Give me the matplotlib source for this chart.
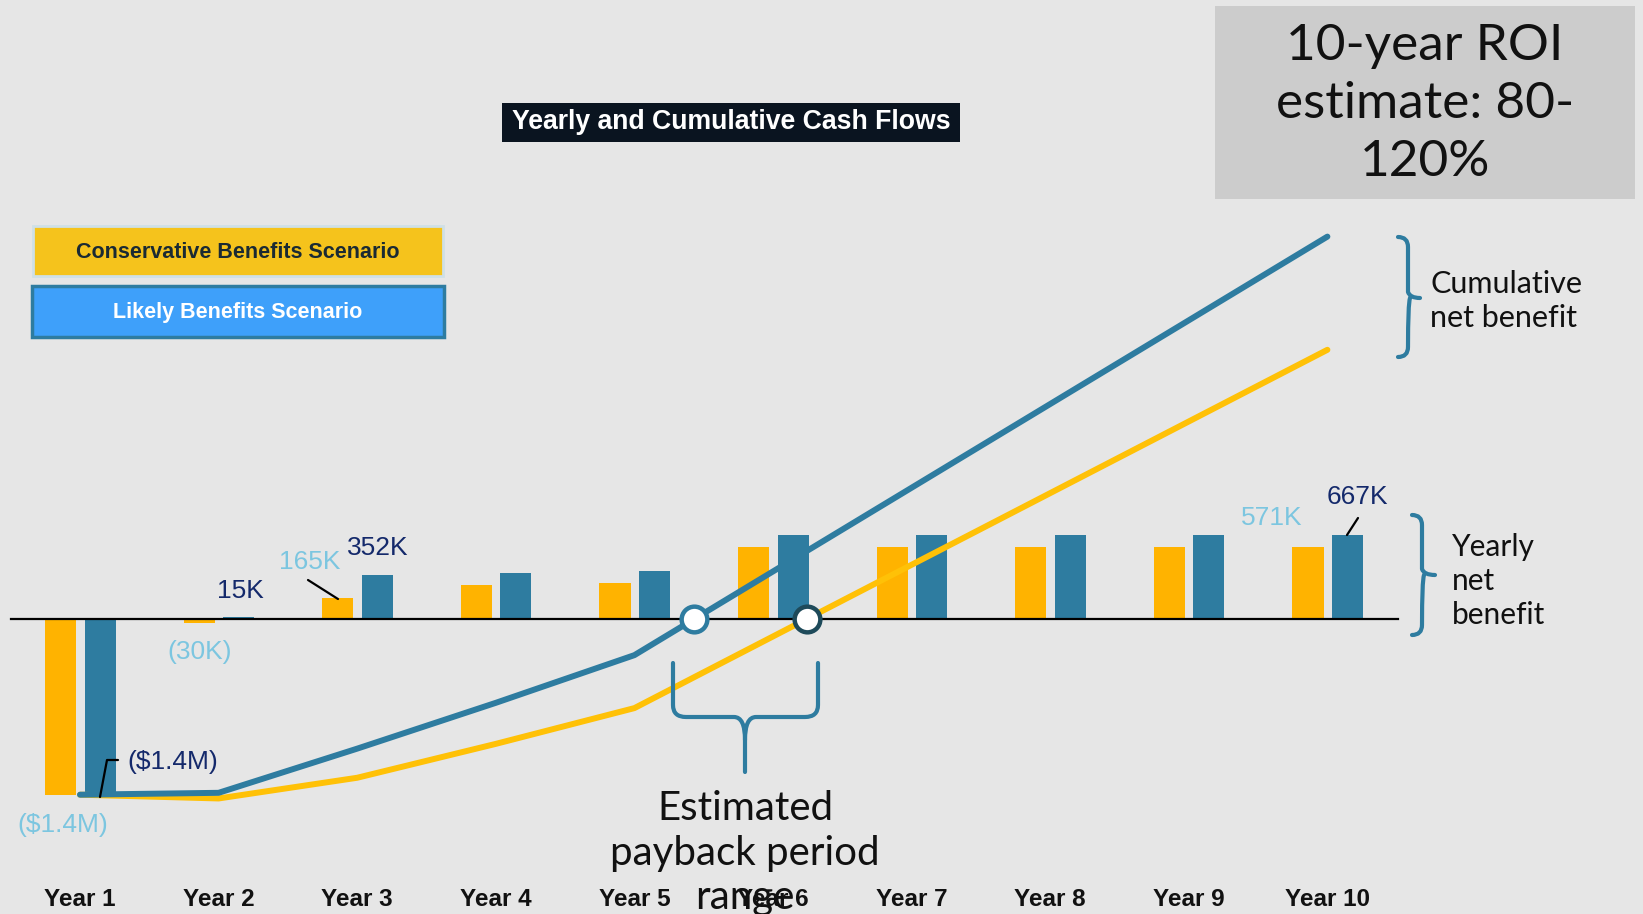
import numpy as np
import matplotlib.pyplot as plt
import matplotlib.transforms as mtransforms
from matplotlib.patches import Rectangle, PathPatch
from matplotlib.path import Path

# ── Data ($K) ─────────────────────────────────────────────────────────────────
years = ["Year 1", "Year 2", "Year 3", "Year 4", "Year 5",
         "Year 6", "Year 7", "Year 8", "Year 9", "Year 10"]
conservative = [-1400, -30, 165, 270, 285, 571, 571, 571, 571, 571]
likely       = [-1400, 15, 352, 365, 380, 667, 667, 667, 667, 667]

cum_cons = np.cumsum(conservative)
cum_like = np.cumsum(likely)

# ── Colours ───────────────────────────────────────────────────────────────────
BG       = "#E6E6E6"
C_YEL    = "#FFB300"
C_YLINE  = "#FFC107"
C_BLUE   = "#2E7CA0"
C_LIGHT  = "#7CC6E0"
C_NAVY   = "#14296B"
C_DARK   = "#1E4A5A"

W, H = 1643, 914
fig = plt.figure(figsize=(W / 100, H / 100), dpi=100, facecolor=BG)
ax = fig.add_axes([0, 0, 1, 1])
ax.set_facecolor(BG)
ax.axis("off")

# pixel layout: year 1 at x=80px, 138.6px per year; zero at y=619px, 0.1255 px per $K
X0, DX = 80, 138.6
Y0, SY = 619, 0.1255
ax.set_xlim(1 - X0 / DX, 1 + (W - X0) / DX)
ax.set_ylim(-(H - Y0) / SY, Y0 / SY)


def fx(px):
    return px / W


def fy(py):
    return 1 - py / H


def fpath(points, codes=None, **kw):
    verts = [(fx(x), fy(y)) for x, y in points]
    p = Path(verts, codes)
    fig.add_artist(PathPatch(p, transform=fig.transFigure, fill=False,
                             capstyle="round", joinstyle="round", **kw))


xpos = np.arange(1, len(years) + 1)
bw = 0.225
ax.bar(xpos - 0.14, conservative, width=bw, color=C_YEL, zorder=2)
ax.bar(xpos + 0.145, likely, width=bw, color=C_BLUE, zorder=2)

ax.plot([0.5, 10.51], [0, 0], color="black", lw=1.6, zorder=3)

ax.plot(xpos, cum_cons, color=C_YLINE, lw=4.3, zorder=4, solid_capstyle="round")
ax.plot(xpos, cum_like, color=C_BLUE, lw=4.3, zorder=4, solid_capstyle="round")


def zero_cross(c):
    for i in range(len(c) - 1):
        if c[i] < 0 <= c[i + 1]:
            return xpos[i] + (-c[i]) / (c[i + 1] - c[i])


ax.plot(zero_cross(cum_like), 0, "o", ms=18.5, mfc="white", mec=C_BLUE, mew=3.2, zorder=5)
ax.plot(zero_cross(cum_cons), 0, "o", ms=18.5, mfc="white", mec=C_DARK, mew=3.2, zorder=5)

# ── Year labels ───────────────────────────────────────────────────────────────
blend = mtransforms.blended_transform_factory(ax.transData, fig.transFigure)
for x, lab in zip(xpos, years):
    ax.text(x, fy(899), lab, transform=blend, ha="center", va="center",
            fontsize=17.5, fontweight="bold", family="Liberation Sans", color="#111111")

# ── Value labels ──────────────────────────────────────────────────────────────
num = dict(fontsize=19, family="Liberation Sans", ha="center", va="center",
           transform=fig.transFigure)
fig.text(fx(63), fy(825), "($1.4M)", color=C_LIGHT, **num)
fig.text(fx(173), fy(762), "($1.4M)", color=C_NAVY, **num)
fig.text(fx(240), fy(591), "15K", color=C_NAVY, **num)
fig.text(fx(200), fy(652), "(30K)", color=C_LIGHT, **num)
fig.text(fx(310), fy(562), "165K", color=C_LIGHT, **num)
fig.text(fx(378), fy(548), "352K", color=C_NAVY, **num)
fig.text(fx(1272), fy(518), "571K", color=C_LIGHT, **num)
fig.text(fx(1357), fy(497), "667K", color=C_NAVY, **num)

fpath([(100, 797), (107, 760), (118, 760)], color="black", lw=1.6, zorder=6)
fpath([(308, 580), (338, 599)], color="black", lw=1.6)
fpath([(1347, 535), (1358, 518)], color="black", lw=1.6)

# ── Brackets ──────────────────────────────────────────────────────────────────
M, L, C3 = Path.MOVETO, Path.LINETO, Path.CURVE3
br = dict(color=C_BLUE, lw=3)

fpath([(1398, 237), (1408, 237), (1408, 247), (1408, 292), (1410, 298), (1420, 298),
       (1410, 298), (1408, 304), (1408, 347), (1408, 357), (1398, 357)],
      [M, C3, C3, L, C3, C3, M, C3, L, C3, C3], **br)
fpath([(1412, 515), (1422, 515), (1422, 525), (1422, 569), (1424, 575), (1435, 575),
       (1424, 575), (1422, 581), (1422, 625), (1422, 635), (1412, 635)],
      [M, C3, C3, L, C3, C3, M, C3, L, C3, C3], **br)

# payback brace
fpath([(673, 663), (673, 705), (673, 717), (686, 717), (734, 717), (745, 717), (745, 740),
       (745, 772)],
      [M, L, C3, C3, L, C3, C3, L], **br)
fpath([(818, 663), (818, 705), (818, 717), (805, 717), (756, 717), (745, 717), (745, 740)],
      [M, L, C3, C3, L, C3, C3], **br)

txt = dict(family="Lato", color="#111111", transform=fig.transFigure)
fig.text(fx(1430), fy(301), "Cumulative\nnet benefit", ha="left", va="center",
         fontsize=22, linespacing=1.23, **txt)
fig.text(fx(1452), fy(581), "Yearly\nnet\nbenefit", ha="left", va="center",
         fontsize=21.5, linespacing=1.27, **txt)
fig.text(fx(745), fy(853), "Estimated\npayback period\nrange", ha="center", va="center",
         fontsize=29, linespacing=1.26, zorder=7, **txt)

# ── ROI box ───────────────────────────────────────────────────────────────────
fig.add_artist(Rectangle((fx(1215), fy(199)), fx(420), 193 / H, transform=fig.transFigure,
                         facecolor="#CCCCCC", edgecolor="none"))
fig.text(fx(1425), fy(104), "10-year ROI\nestimate: 80-\n120%", ha="center", va="center",
         fontsize=37, linespacing=1.32, **txt)

# ── Title ─────────────────────────────────────────────────────────────────────
fig.add_artist(Rectangle((fx(502), fy(142)), fx(458), 39 / H, transform=fig.transFigure,
                         facecolor="#0A1420", edgecolor="none"))
fig.text(fx(731), fy(122), "Yearly and Cumulative Cash Flows", ha="center", va="center",
         fontsize=19.2, fontweight="bold", family="Liberation Sans", color="white")

# ── Legend boxes ──────────────────────────────────────────────────────────────
fig.add_artist(Rectangle((fx(33), fy(276)), fx(410), 50 / H, transform=fig.transFigure,
                         facecolor="#F5C31C", edgecolor="#CFE0E6", lw=2))
fig.text(fx(238), fy(252), "Conservative Benefits Scenario", ha="center", va="center",
         fontsize=15.5, fontweight="bold", family="Liberation Sans", color="#1A2A33")
fig.add_artist(Rectangle((fx(32), fy(337)), fx(412), 51 / H, transform=fig.transFigure,
                         facecolor="#3EA0FA", edgecolor=C_BLUE, lw=2.5))
fig.text(fx(238), fy(313), "Likely Benefits Scenario", ha="center", va="center",
         fontsize=15.5, fontweight="bold", family="Liberation Sans", color="white")

fig.savefig("out.png", dpi=100, facecolor=BG)
